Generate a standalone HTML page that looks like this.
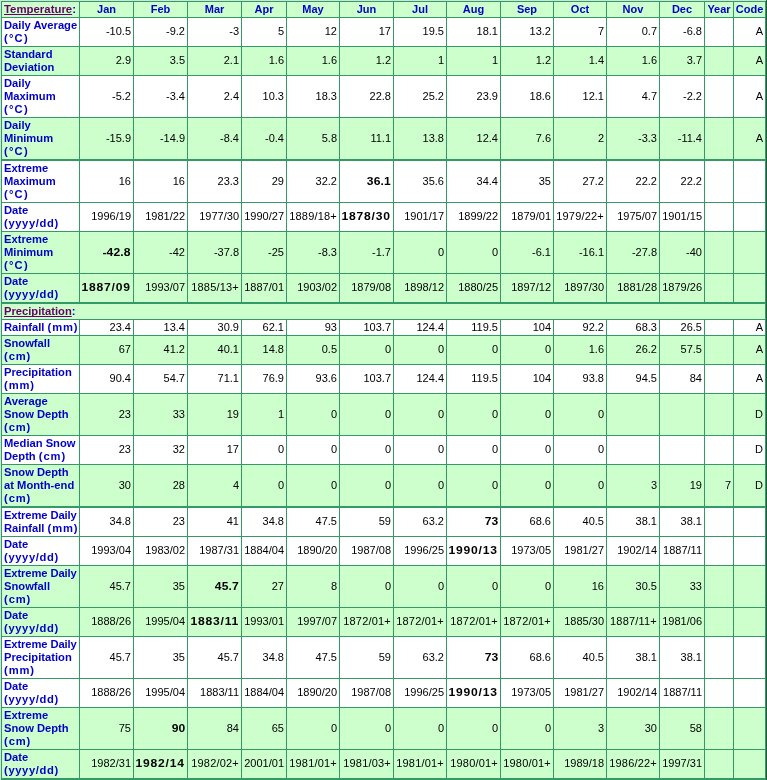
<!DOCTYPE html>
<html>
<head>
<meta charset="utf-8">
<title>Climate Normals</title>
<style>
html, body { margin: 0; padding: 0; background: #ffffff; }
body { width: 767px; height: 780px; overflow: hidden; }
table.clim {
  position: absolute; left: 0; top: 0;
  width: 767px; height: 780px;
  table-layout: fixed;
  border-collapse: separate;
  border-spacing: 1px;
  background: #339966;
  border-style: solid;
  border-width: 1px;
  border-color: #cce6d9 #1f5a3c #339966 #cce6d9;
  font-family: "Liberation Sans", sans-serif;
  font-size: 11px;
  line-height: 13px;
  color: #000000;
  will-change: transform;
}
table.clim td, table.clim th {
  box-sizing: border-box;
  padding: 1px 2px 1px 1px;
  margin: 0;
  border: 0 solid #339966;
  vertical-align: middle;
  text-align: right;
  font-weight: normal;
  white-space: nowrap;
  overflow: hidden;
  background: #ffffff;
}
table.clim tr.g td, table.clim tr.g th { background: #ccffcc; }
table.clim tr.thick td, table.clim tr.thick th { border-bottom-width: 1px; }
table.clim tr.two td { padding-bottom: 2px; }
table.clim th { text-align: left; font-weight: bold; font-size: 11.2px; color: #0000cc; padding: 1px 0 1px 2px; }
table.clim tr.hdr th { text-align: center; padding: 1px 0; font-size: 11px; }
table.clim tr.hdr th.first { text-align: left; padding-left: 2px; font-size: 11.4px; }
table.clim a { color: #660066; text-decoration: underline; text-decoration-skip-ink: none; }
table.clim b.bd { letter-spacing: 0.7px; }
table.clim td.pd { letter-spacing: 0.2px; }
table.clim .dc { letter-spacing: 1.2px; }
table.clim .un { letter-spacing: 0.9px; }
table.clim .yd { letter-spacing: 0.65px; }
table.clim .ed { letter-spacing: -0.1px; }
table.clim b { display: inline-block; font-weight: bold; font-size: 11px; letter-spacing: 0.1px; transform: scaleX(1.1); transform-origin: 100% 50%; }
.edge-l, .edge-r { position: absolute; top: 0; width: 1px; height: 780px; z-index: 2; }
.edge-l { left: 0; background: #cce6d9; }
.edge-r { left: 766px; background: #1f5a3c; }
</style>
</head>
<body>
<table class="clim" cellspacing="1" cellpadding="0">
<colgroup>
<col style="width:77px">
<col style="width:53px">
<col style="width:53px">
<col style="width:53px">
<col style="width:44px">
<col style="width:52px">
<col style="width:53px">
<col style="width:52px">
<col style="width:53px">
<col style="width:52px">
<col style="width:52px">
<col style="width:52px">
<col style="width:44px">
<col style="width:28px">
<col style="width:31px">
</colgroup>
<tbody>
<tr class="g hdr" style="height:15px"><th class="first"><a>Temperature</a>:</th><th>Jan</th><th>Feb</th><th>Mar</th><th>Apr</th><th>May</th><th>Jun</th><th>Jul</th><th>Aug</th><th>Sep</th><th>Oct</th><th>Nov</th><th>Dec</th><th>Year</th><th>Code</th></tr>
<tr class="two" style="height:28px"><th>Daily Average<br><span class="dc">(&deg;C)</span></th><td>-10.5</td><td>-9.2</td><td>-3</td><td>5</td><td>12</td><td>17</td><td>19.5</td><td>18.1</td><td>13.2</td><td>7</td><td>0.7</td><td>-6.8</td><td></td><td>A</td></tr>
<tr class="g two" style="height:28px"><th>Standard<br>Deviation</th><td>2.9</td><td>3.5</td><td>2.1</td><td>1.6</td><td>1.6</td><td>1.2</td><td>1</td><td>1</td><td>1.2</td><td>1.4</td><td>1.6</td><td>3.7</td><td></td><td>A</td></tr>
<tr style="height:41px"><th>Daily<br>Maximum<br><span class="dc">(&deg;C)</span></th><td>-5.2</td><td>-3.4</td><td>2.4</td><td>10.3</td><td>18.3</td><td>22.8</td><td>25.2</td><td>23.9</td><td>18.6</td><td>12.1</td><td>4.7</td><td>-2.2</td><td></td><td>A</td></tr>
<tr class="g thick" style="height:42px"><th>Daily<br>Minimum<br><span class="dc">(&deg;C)</span></th><td>-15.9</td><td>-14.9</td><td>-8.4</td><td>-0.4</td><td>5.8</td><td>11.1</td><td>13.8</td><td>12.4</td><td>7.6</td><td>2</td><td>-3.3</td><td>-11.4</td><td></td><td>A</td></tr>
<tr style="height:41px"><th>Extreme<br>Maximum<br><span class="dc">(&deg;C)</span></th><td>16</td><td>16</td><td>23.3</td><td>29</td><td>32.2</td><td><b>36.1</b></td><td>35.6</td><td>34.4</td><td>35</td><td>27.2</td><td>22.2</td><td>22.2</td><td></td><td></td></tr>
<tr class="two" style="height:28px"><th>Date<br><span class="yd">(yyyy/dd)</span></th><td>1996/19</td><td>1981/22</td><td>1977/30</td><td>1990/27</td><td class="pd">1889/18+</td><td><b class="bd">1878/30</b></td><td>1901/17</td><td>1899/22</td><td>1879/01</td><td class="pd">1979/22+</td><td>1975/07</td><td>1901/15</td><td></td><td></td></tr>
<tr class="g" style="height:41px"><th>Extreme<br>Minimum<br><span class="dc">(&deg;C)</span></th><td><b>-42.8</b></td><td>-42</td><td>-37.8</td><td>-25</td><td>-8.3</td><td>-1.7</td><td>0</td><td>0</td><td>-6.1</td><td>-16.1</td><td>-27.8</td><td>-40</td><td></td><td></td></tr>
<tr class="g thick two" style="height:29px"><th>Date<br><span class="yd">(yyyy/dd)</span></th><td><b class="bd">1887/09</b></td><td>1993/07</td><td class="pd">1885/13+</td><td>1887/01</td><td>1903/02</td><td>1879/08</td><td>1898/12</td><td>1880/25</td><td>1897/12</td><td>1897/30</td><td>1881/28</td><td>1879/26</td><td></td><td></td></tr>
<tr class="g" style="height:15px"><th colspan="15"><a>Precipitation</a>:</th></tr>
<tr style="height:15px"><th>Rainfall <span class="un">(mm)</span></th><td>23.4</td><td>13.4</td><td>30.9</td><td>62.1</td><td>93</td><td>103.7</td><td>124.4</td><td>119.5</td><td>104</td><td>92.2</td><td>68.3</td><td>26.5</td><td></td><td>A</td></tr>
<tr class="g two" style="height:28px"><th>Snowfall<br><span class="un">(cm)</span></th><td>67</td><td>41.2</td><td>40.1</td><td>14.8</td><td>0.5</td><td>0</td><td>0</td><td>0</td><td>0</td><td>1.6</td><td>26.2</td><td>57.5</td><td></td><td>A</td></tr>
<tr class="two" style="height:28px"><th>Precipitation<br><span class="un">(mm)</span></th><td>90.4</td><td>54.7</td><td>71.1</td><td>76.9</td><td>93.6</td><td>103.7</td><td>124.4</td><td>119.5</td><td>104</td><td>93.8</td><td>94.5</td><td>84</td><td></td><td>A</td></tr>
<tr class="g" style="height:41px"><th>Average<br>Snow Depth<br><span class="un">(cm)</span></th><td>23</td><td>33</td><td>19</td><td>1</td><td>0</td><td>0</td><td>0</td><td>0</td><td>0</td><td>0</td><td></td><td></td><td></td><td>D</td></tr>
<tr class="two" style="height:28px"><th>Median Snow<br>Depth <span class="un">(cm)</span></th><td>23</td><td>32</td><td>17</td><td>0</td><td>0</td><td>0</td><td>0</td><td>0</td><td>0</td><td>0</td><td></td><td></td><td></td><td>D</td></tr>
<tr class="g thick" style="height:42px"><th>Snow Depth<br>at Month-end<br><span class="un">(cm)</span></th><td>30</td><td>28</td><td>4</td><td>0</td><td>0</td><td>0</td><td>0</td><td>0</td><td>0</td><td>0</td><td>3</td><td>19</td><td>7</td><td>D</td></tr>
<tr class="two" style="height:28px"><th><span class="ed">Extreme Daily</span><br>Rainfall <span class="un">(mm)</span></th><td>34.8</td><td>23</td><td>41</td><td>34.8</td><td>47.5</td><td>59</td><td>63.2</td><td><b>73</b></td><td>68.6</td><td>40.5</td><td>38.1</td><td>38.1</td><td></td><td></td></tr>
<tr class="two" style="height:28px"><th>Date<br><span class="yd">(yyyy/dd)</span></th><td>1993/04</td><td>1983/02</td><td>1987/31</td><td>1884/04</td><td>1890/20</td><td>1987/08</td><td>1996/25</td><td><b class="bd">1990/13</b></td><td>1973/05</td><td>1981/27</td><td>1902/14</td><td>1887/11</td><td></td><td></td></tr>
<tr class="g" style="height:41px"><th><span class="ed">Extreme Daily</span><br>Snowfall<br><span class="un">(cm)</span></th><td>45.7</td><td>35</td><td><b>45.7</b></td><td>27</td><td>8</td><td>0</td><td>0</td><td>0</td><td>0</td><td>16</td><td>30.5</td><td>33</td><td></td><td></td></tr>
<tr class="g two" style="height:28px"><th>Date<br><span class="yd">(yyyy/dd)</span></th><td>1888/26</td><td>1995/04</td><td><b class="bd">1883/11</b></td><td>1993/01</td><td>1997/07</td><td class="pd">1872/01+</td><td class="pd">1872/01+</td><td class="pd">1872/01+</td><td class="pd">1872/01+</td><td>1885/30</td><td class="pd">1887/11+</td><td>1981/06</td><td></td><td></td></tr>
<tr style="height:41px"><th><span class="ed">Extreme Daily</span><br>Precipitation<br><span class="un">(mm)</span></th><td>45.7</td><td>35</td><td>45.7</td><td>34.8</td><td>47.5</td><td>59</td><td>63.2</td><td><b>73</b></td><td>68.6</td><td>40.5</td><td>38.1</td><td>38.1</td><td></td><td></td></tr>
<tr class="two" style="height:28px"><th>Date<br><span class="yd">(yyyy/dd)</span></th><td>1888/26</td><td>1995/04</td><td>1883/11</td><td>1884/04</td><td>1890/20</td><td>1987/08</td><td>1996/25</td><td><b class="bd">1990/13</b></td><td>1973/05</td><td>1981/27</td><td>1902/14</td><td>1887/11</td><td></td><td></td></tr>
<tr class="g" style="height:41px"><th>Extreme<br>Snow Depth<br><span class="un">(cm)</span></th><td>75</td><td><b>90</b></td><td>84</td><td>65</td><td>0</td><td>0</td><td>0</td><td>0</td><td>0</td><td>3</td><td>30</td><td>58</td><td></td><td></td></tr>
<tr class="g two" style="height:28px"><th>Date<br><span class="yd">(yyyy/dd)</span></th><td>1982/31</td><td><b class="bd">1982/14</b></td><td class="pd">1982/02+</td><td>2001/01</td><td class="pd">1981/01+</td><td class="pd">1981/03+</td><td class="pd">1981/01+</td><td class="pd">1980/01+</td><td class="pd">1980/01+</td><td>1989/18</td><td class="pd">1986/22+</td><td>1997/31</td><td></td><td></td></tr>
</tbody>
</table>
<div class="edge-l"></div>
<div class="edge-r"></div>
</body>
</html>
